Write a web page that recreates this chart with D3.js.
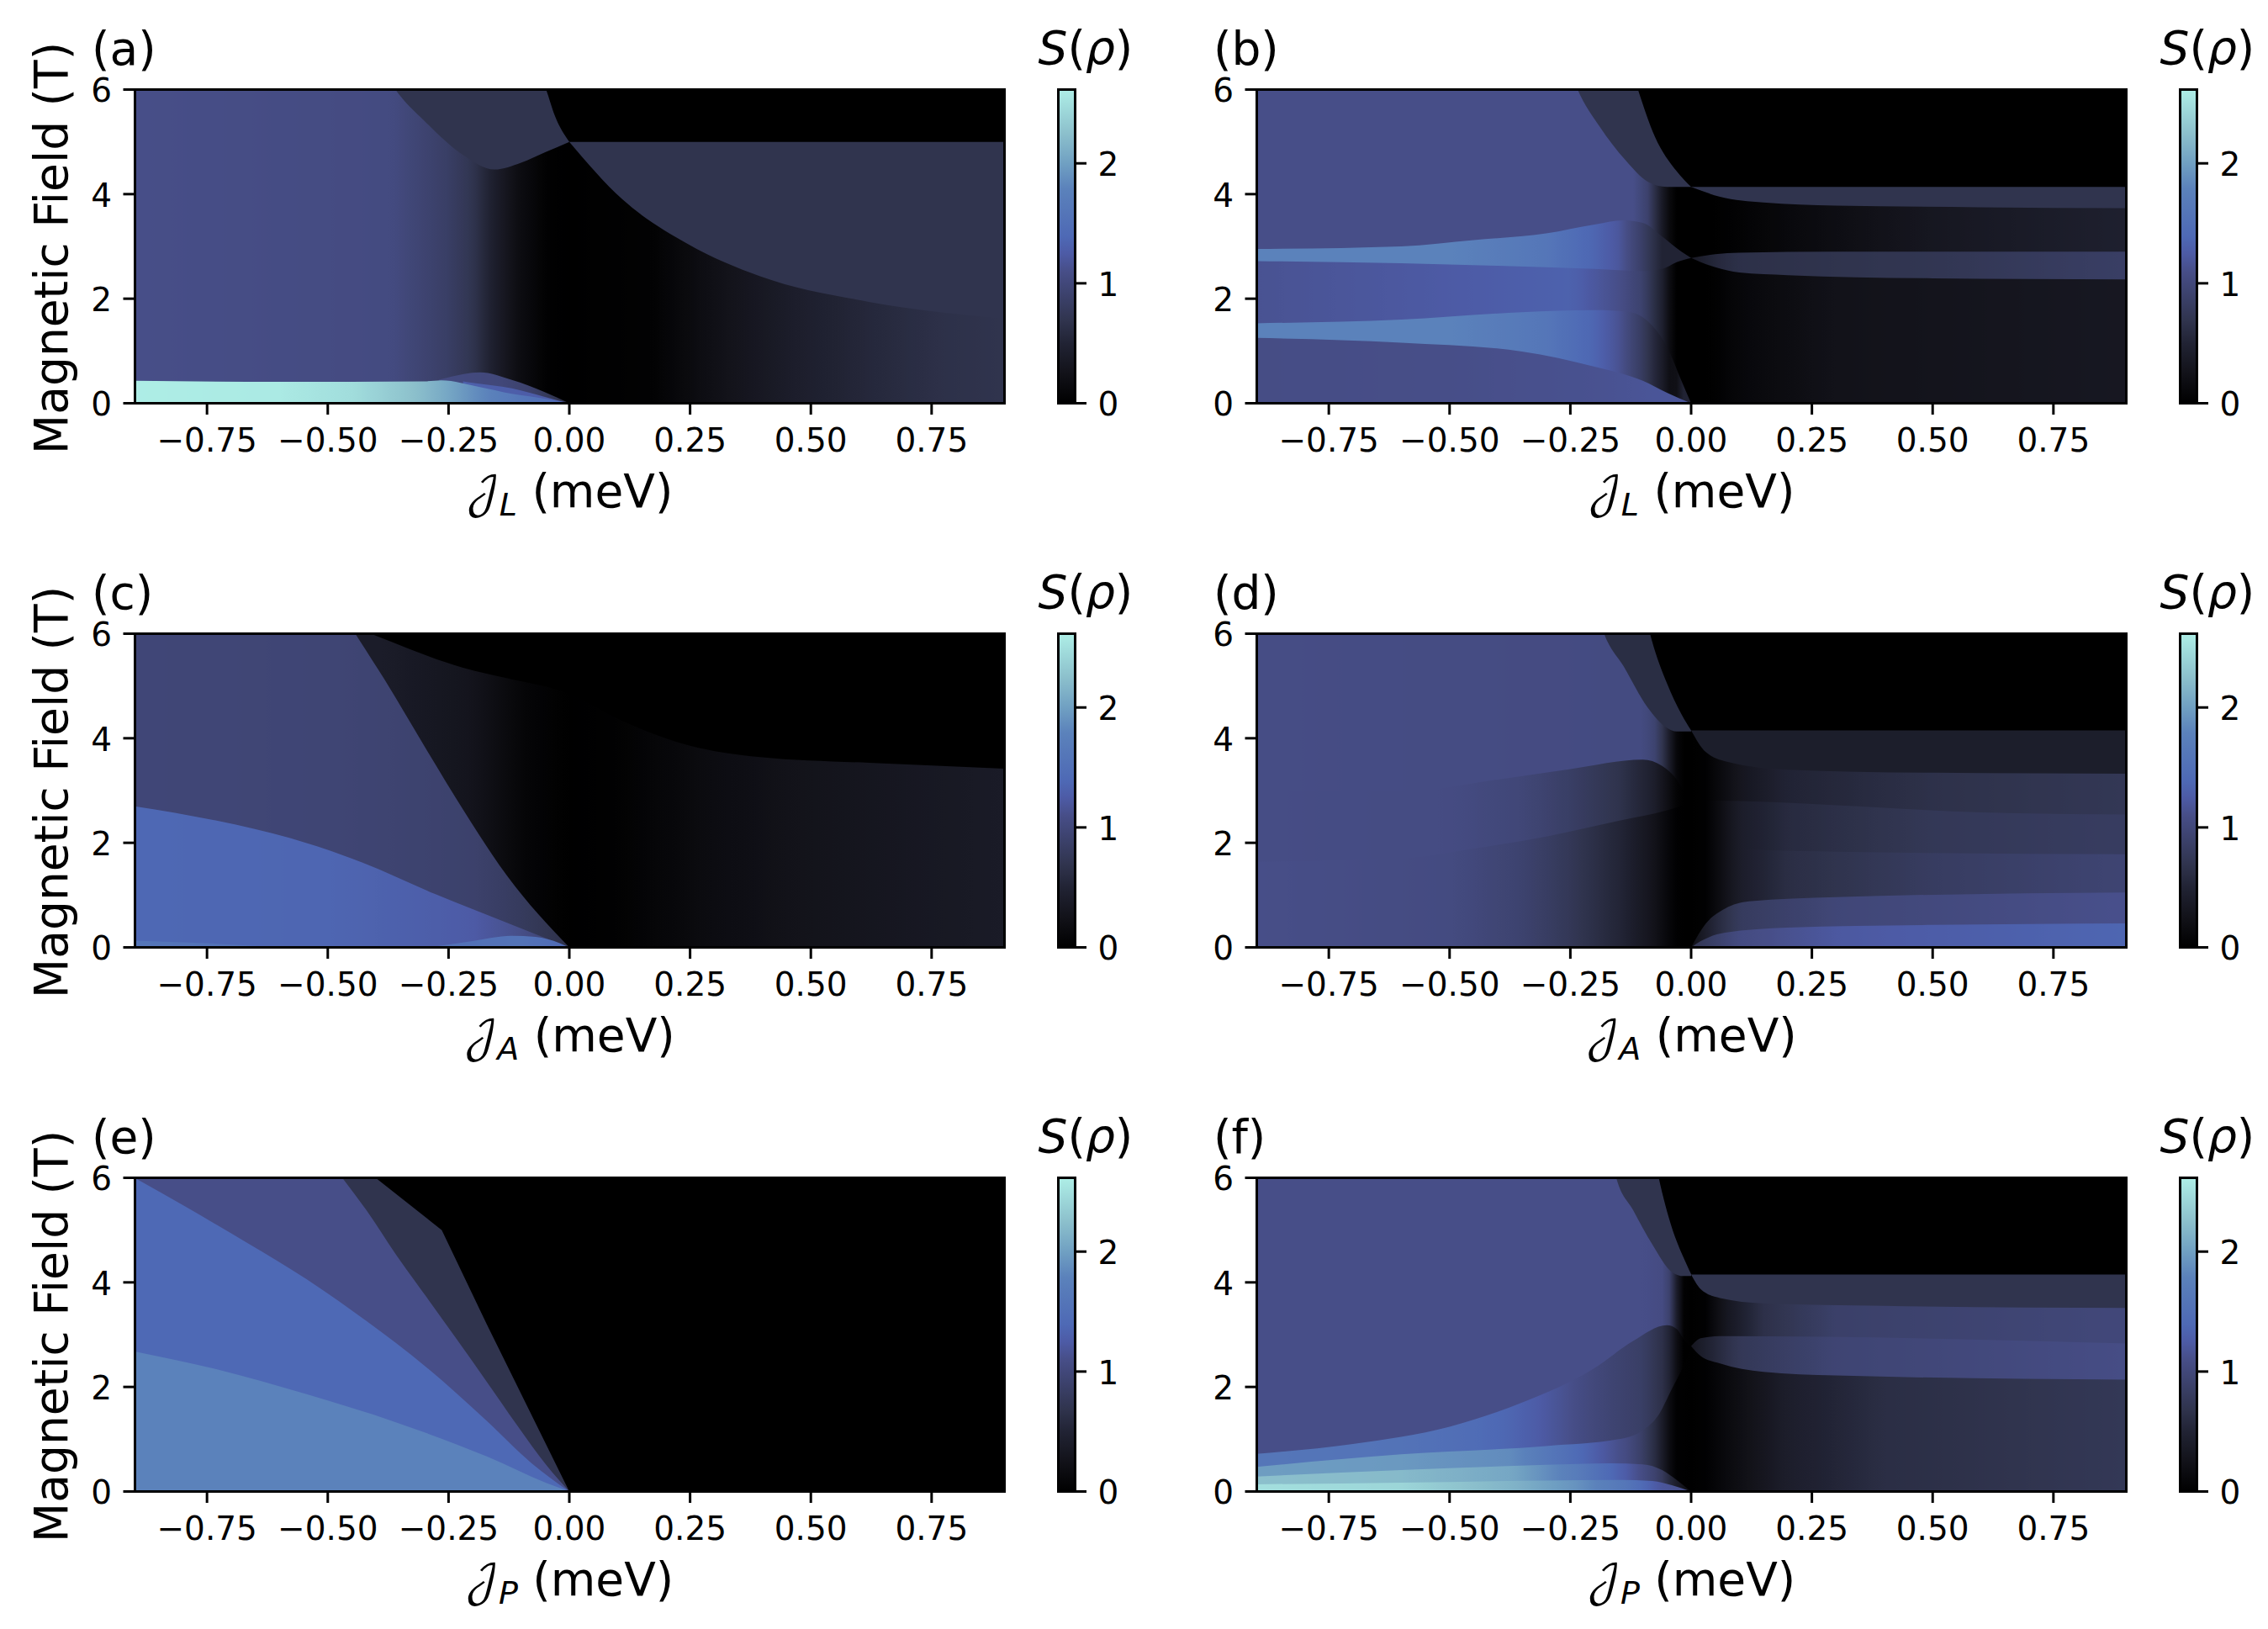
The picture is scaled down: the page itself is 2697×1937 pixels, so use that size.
<!DOCTYPE html>
<meta charset="utf-8">
<style>
body { margin: 0; background: #fff; }
svg { display: block; font-family: "DejaVu Sans", sans-serif; }
.axis path { display: none; }
.axis line { stroke: #000; stroke-width: 3; }
.axis text { font-family: "DejaVu Sans", sans-serif; font-size: 39px; fill: #000; }
.frame { fill: none; stroke: #000; stroke-width: 3; }
.label { font-size: 55px; fill: #000; }
.cal { font-family: "DejaVu Math TeX Gyre", "DejaVu Sans"; font-size: 50px; }
</style>
<div id="chart"></div>
<script src="https://d3js.org/d3.v7.min.js"></script>
<script>
// colormap
var cmapS = [0, 0.25, 0.5, 0.69, 1.1, 1.25, 1.39, 1.79, 2, 2.25, 2.615];
var cmapHex = ["#000000", "#121219", "#212334", "#30344e", "#474e88", "#4d5ba6", "#4e69b5", "#5b82bb", "#70a0c2", "#8cc0cc", "#aeeee6"];

var xTicks = [-0.75, -0.5, -0.25, 0, 0.25, 0.5, 0.75];
var yTicks = [0, 2, 4, 6];
var barTicks = [0, 1, 2];
var panelNames = ["(a)", "(b)", "(c)", "(d)", "(e)", "(f)"];
var xSubs = ["L", "L", "A", "A", "P", "P"];

// each layer: top = boundary [J, B], S = entropy profile [J, S]. painted in order, each fills down to B=0
var panelA = [
  {top: [[-0.9, 9], [-0.09, 6.8], [-0.048, 6], [-0.03, 5.5], [0, 5]], S: [[-0.9, 0.69], [0, 0.69]]},
  {top: [[-0.9, 9], [-0.4, 6.6], [-0.36, 6], [-0.3, 5.4], [-0.22, 4.75], [-0.155, 4.47], [-0.1, 4.6], [-0.05, 4.8], [0, 5]],
   S: [[-0.9, 1.1], [-0.37, 1.05], [-0.25, 0.85], [-0.2, 0.7], [-0.16, 0.45], [-0.11, 0.2], [-0.05, 0.02], [0, 0]]},
  {top: [[0, 5], [0.9, 5]], S: [[0, 0.69], [0.9, 0.69]]},
  {top: [[0, 5], [0.11, 3.9], [0.245, 3.05], [0.395, 2.43], [0.62, 1.94], [0.9, 1.62]],
   S: [[0, 0], [0.17, 0.03], [0.32, 0.25], [0.47, 0.42], [0.62, 0.55], [0.77, 0.65], [0.9, 0.69]]},
  {top: [[-0.27, 0.45], [-0.252, 0.49], [-0.185, 0.59], [-0.119, 0.447], [-0.052, 0.217], [0, 0]],
   S: [[-0.27, 1.05], [-0.15, 1], [-0.08, 0.9], [0, 0.6]]},
  {top: [[-0.22, 0.42], [-0.2, 0.39], [-0.119, 0.285], [-0.052, 0.125], [0, 0]],
   S: [[-0.22, 1.3], [0, 1.25]]},
  {top: [[-0.9, 0.43], [-0.6, 0.41], [-0.3, 0.42], [-0.265, 0.44], [-0.185, 0.31], [-0.119, 0.18], [-0.052, 0.09], [0, 0]],
   S: [[-0.9, 2.61], [-0.6, 2.58], [-0.45, 2.48], [-0.32, 2.25], [-0.25, 2.05], [-0.19, 1.85], [-0.1, 1.6], [0, 1.4]]}
];

var panelB = [
  {top: [[-0.9, 9], [-0.13, 6.6], [-0.11, 6], [-0.075, 5.1], [-0.03, 4.44], [0, 4.14]], S: [[-0.9, 0.69], [0, 0.69]]},
  {top: [[-0.9, 9], [-0.26, 6.6], [-0.235, 6], [-0.19, 5.3], [-0.135, 4.64], [-0.09, 4.24], [-0.05, 4.14], [0, 4.14]],
   S: [[-0.9, 1.1], [-0.12, 1.1], [-0.09, 0.9], [-0.07, 0.55], [-0.05, 0.2], [-0.035, 0], [0, 0]]},
  {top: [[0, 4.14], [0.9, 4.14]], S: [[0, 0.69], [0.9, 0.69]]},
  {top: [[0, 4.14], [0.06, 3.95], [0.15, 3.84], [0.3, 3.78], [0.6, 3.75], [0.9, 3.73]],
   S: [[0, 0], [0.05, 0], [0.2, 0.12], [0.5, 0.32], [0.9, 0.45]]},
  {top: [[-0.9, 2.95], [-0.6, 3], [-0.45, 3.12], [-0.3, 3.25], [-0.2, 3.42], [-0.14, 3.5], [-0.1, 3.45], [-0.06, 3.19], [-0.02, 2.9], [0, 2.78]],
   S: [[-0.9, 1.79], [-0.5, 1.79], [-0.3, 1.6], [-0.2, 1.35], [-0.15, 1.2], [-0.1, 0.85], [-0.06, 0.5], [0, 0.5]]},
  {top: [[0, 2.78], [0.05, 2.85], [0.1, 2.88], [0.3, 2.9], [0.9, 2.9]],
   S: [[0, 0.35], [0.05, 0.55], [0.1, 0.65], [0.5, 0.72], [0.9, 0.85]]},
  {top: [[0, 2.78], [0.05, 2.6], [0.1, 2.5], [0.2, 2.45], [0.5, 2.39], [0.9, 2.37]],
   S: [[0, 0], [0.04, 0], [0.1, 0.1], [0.3, 0.25], [0.9, 0.33]]},
  {top: [[-0.9, 2.72], [-0.6, 2.68], [-0.4, 2.63], [-0.2, 2.57], [-0.1, 2.53], [-0.06, 2.57], [-0.03, 2.7], [0, 2.78]],
   S: [[-0.9, 1.15], [-0.6, 1.22], [-0.4, 1.27], [-0.25, 1.32], [-0.15, 1.1], [-0.1, 0.9], [-0.06, 0.45], [-0.035, 0], [0, 0]]},
  {top: [[-0.9, 1.53], [-0.6, 1.6], [-0.35, 1.74], [-0.2, 1.78], [-0.13, 1.75], [-0.08, 1.48], [-0.05, 1.08], [-0.02, 0.43], [0, 0]],
   S: [[-0.9, 1.79], [-0.5, 1.79], [-0.3, 1.6], [-0.2, 1.35], [-0.15, 1.15], [-0.1, 0.8], [-0.06, 0.4], [-0.035, 0.08], [-0.02, 0.5], [0, 0.5]]},
  {top: [[-0.9, 1.25], [-0.6, 1.16], [-0.35, 0.99], [-0.2, 0.7], [-0.1, 0.43], [-0.05, 0.2], [0, 0]],
   S: [[-0.9, 1.08], [-0.5, 1.1], [-0.2, 1.14], [-0.08, 1.18], [0, 1.18]]}
];

var panelC = [
  {top: [[-0.9, 8], [-0.4, 5.96], [-0.22, 5.35], [-0.13, 5.15], [0, 4.85], [0.11, 4.33], [0.245, 3.87], [0.395, 3.64], [0.62, 3.53], [0.9, 3.42]],
   S: [[-0.9, 0.4], [-0.4, 0.4], [-0.2, 0.28], [-0.1, 0.08], [0, 0], [0.1, 0.02], [0.3, 0.17], [0.5, 0.27], [0.9, 0.38]]},
  {top: [[-0.9, 9], [-0.47, 6.4], [-0.443, 6], [-0.383, 5.13], [-0.293, 3.74], [-0.219, 2.62], [-0.129, 1.37], [0, 0]],
   S: [[-0.9, 0.98], [-0.5, 0.96], [-0.2, 0.9], [-0.1, 0.8], [0, 0.65]]},
  {top: [[-0.9, 2.7], [-0.728, 2.42], [-0.578, 2.09], [-0.428, 1.62], [-0.278, 1.02], [-0.129, 0.47], [0, 0]],
   S: [[-0.9, 1.38], [-0.5, 1.36], [-0.2, 1.25], [-0.1, 1.1], [-0.03, 0.9], [0, 0.7]]},
  {top: [[-0.9, 0.13], [-0.75, 0.08], [-0.6, 0]], S: [[-0.9, 1.6], [-0.6, 1.5]]},
  {top: [[-0.29, 0], [-0.2, 0.12], [-0.12, 0.22], [-0.07, 0.2], [-0.02, 0.08], [0, 0]], S: [[-0.29, 1.5], [-0.1, 1.55], [0, 1.4]]}
];

var panelD = [
  {top: [[-0.9, 9], [-0.1, 6.6], [-0.085, 6], [-0.05, 5.05], [-0.02, 4.46], [0, 4.15]], S: [[-0.9, 0.62], [0, 0.62]]},
  {top: [[-0.9, 9], [-0.2, 6.6], [-0.18, 6], [-0.14, 5.38], [-0.09, 4.59], [-0.05, 4.2], [-0.03, 4.13], [0, 4.13]],
   S: [[-0.9, 1.08], [-0.1, 1.05], [-0.07, 0.9], [-0.05, 0.5], [-0.03, 0.1], [-0.015, 0], [0, 0]]},
  {top: [[0, 4.15], [0.9, 4.15]], S: [[0, 0.42], [0.9, 0.42]]},
  {top: [[0, 4.15], [0.03, 3.74], [0.08, 3.54], [0.2, 3.4], [0.5, 3.34], [0.9, 3.32]],
   S: [[0, 0], [0.03, 0.02], [0.1, 0.3], [0.2, 0.5], [0.5, 0.66], [0.9, 0.74]]},
  {top: [[-0.9, 3.0], [-0.57, 3.01], [-0.4, 3.21], [-0.25, 3.41], [-0.1, 3.59], [-0.06, 3.47], [-0.03, 3.21], [-0.01, 2.9], [0, 2.78]],
   S: [[-0.9, 1.08], [-0.5, 1.06], [-0.35, 0.98], [-0.25, 0.85], [-0.15, 0.68], [-0.08, 0.45], [-0.05, 0.22], [-0.03, 0.05], [-0.015, 0], [0, 0]]},
  {top: [[0, 2.78], [0.03, 2.81], [0.3, 2.72], [0.6, 2.58], [0.9, 2.54]],
   S: [[0, 0], [0.03, 0.02], [0.1, 0.4], [0.2, 0.58], [0.5, 0.75], [0.9, 0.82]]},
  {top: [[-0.9, 1.64], [-0.6, 1.7], [-0.45, 1.89], [-0.3, 2.12], [-0.15, 2.42], [-0.05, 2.62], [0, 2.78]],
   S: [[-0.9, 1.1], [-0.5, 1.05], [-0.35, 0.92], [-0.25, 0.75], [-0.15, 0.52], [-0.08, 0.28], [-0.04, 0.06], [-0.025, 0], [0, 0]]},
  {top: [[0, 2.78], [0.02, 2.49], [0.05, 2.16], [0.08, 1.96], [0.15, 1.86], [0.3, 1.83], [0.9, 1.78]],
   S: [[0, 0], [0.03, 0.02], [0.1, 0.4], [0.2, 0.62], [0.5, 0.82], [0.9, 0.95]]},
  {top: [[0, 0], [0.03, 0.45], [0.07, 0.74], [0.12, 0.88], [0.3, 0.96], [0.9, 1.05]],
   S: [[0, 0.2], [0.05, 0.55], [0.1, 0.8], [0.3, 0.98], [0.9, 1.12]]},
  {top: [[0, 0], [0.02, 0.12], [0.07, 0.28], [0.2, 0.38], [0.5, 0.43], [0.9, 0.46]],
   S: [[0, 0.7], [0.1, 1.05], [0.3, 1.22], [0.9, 1.36]]}
];

var panelE = [
  {top: [[-0.9, 6], [-0.401, 6], [-0.264, 5], [-0.171, 3.2], [0, 0]], S: [[-0.9, 0.69], [0, 0.69]]},
  {top: [[-0.9, 9], [-0.49, 6.25], [-0.47, 6], [-0.42, 5.38], [-0.358, 4.52], [-0.295, 3.71], [-0.233, 2.91], [-0.171, 2.1], [-0.109, 1.28], [-0.047, 0.5], [0, 0]],
   S: [[-0.9, 1.1], [0, 1.1]]},
  {top: [[-0.9, 6], [-0.793, 5.44], [-0.668, 4.76], [-0.544, 4.06], [-0.42, 3.26], [-0.295, 2.37], [-0.171, 1.35], [-0.078, 0.54], [0, 0]], S: [[-0.9, 1.39], [0, 1.39]]},
  {top: [[-0.9, 2.68], [-0.731, 2.34], [-0.544, 1.86], [-0.358, 1.32], [-0.171, 0.67], [-0.047, 0.16], [0, 0]], S: [[-0.9, 1.79], [0, 1.79]]}
];

var panelF = [
  {top: [[-0.9, 9], [-0.08, 6.6], [-0.067, 6], [-0.04, 5.05], [-0.015, 4.46], [0, 4.16]], S: [[-0.9, 0.69], [0, 0.69]]},
  {top: [[-0.9, 9], [-0.17, 6.6], [-0.155, 6], [-0.12, 5.38], [-0.08, 4.72], [-0.04, 4.2], [-0.015, 4.12], [0, 4.12]],
   S: [[-0.9, 1.1], [-0.1, 1.1], [-0.05, 1.05], [-0.035, 0.6], [-0.02, 0.05], [-0.01, 0], [0, 0]]},
  {top: [[0, 4.15], [0.9, 4.15]], S: [[0, 0.69], [0.9, 0.69]]},
  {top: [[0, 4.15], [0.02, 3.87], [0.06, 3.7], [0.15, 3.6], [0.4, 3.55], [0.9, 3.51]],
   S: [[0, 0], [0.03, 0.02], [0.07, 0.3], [0.15, 0.65], [0.3, 0.88], [0.9, 1]]},
  {top: [[-0.9, 0.72], [-0.7, 0.91], [-0.5, 1.24], [-0.35, 1.7], [-0.2, 2.36], [-0.12, 2.88], [-0.05, 3.18], [-0.03, 3.11], [-0.01, 2.85], [0, 2.78]],
   S: [[-0.9, 1.6], [-0.6, 1.55], [-0.45, 1.45], [-0.37, 1.35], [-0.3, 1.22], [-0.2, 1], [-0.1, 0.85], [-0.05, 0.6], [-0.03, 0.2], [-0.015, 0], [0, 0]]},
  {top: [[0, 2.78], [0.02, 2.93], [0.06, 2.97], [0.9, 2.83]],
   S: [[0, 0.3], [0.05, 0.55], [0.1, 0.75], [0.3, 0.95], [0.9, 1.08]]},
  {top: [[0, 2.78], [0.02, 2.59], [0.06, 2.45], [0.15, 2.29], [0.3, 2.22], [0.9, 2.14]],
   S: [[0, 0], [0.03, 0.02], [0.1, 0.2], [0.2, 0.42], [0.4, 0.62], [0.9, 0.75]]},
  {top: [[-0.9, 0.47], [-0.6, 0.71], [-0.3, 0.87], [-0.15, 1], [-0.1, 1.17], [-0.07, 1.43], [-0.04, 1.96], [-0.015, 2.42], [0, 2.78]],
   S: [[-0.9, 1.98], [-0.6, 1.95], [-0.37, 1.85], [-0.236, 1.42], [-0.133, 1.05], [-0.1, 0.85], [-0.07, 0.55], [-0.05, 0.25], [-0.035, 0.02], [0, 0]]},
  {top: [[-0.9, 0.286], [-0.6, 0.41], [-0.3, 0.51], [-0.167, 0.54], [-0.1, 0.52], [-0.06, 0.41], [-0.03, 0.22], [0, 0]],
   S: [[-0.9, 2.25], [-0.6, 2.2], [-0.37, 2.05], [-0.236, 1.7], [-0.133, 1.25], [-0.064, 0.85], [-0.04, 0.5], [-0.02, 0.3], [0, 0.1]]},
  {top: [[-0.9, 0.137], [-0.6, 0.17], [-0.3, 0.21], [-0.15, 0.22], [-0.08, 0.2], [-0.04, 0.12], [0, 0]],
   S: [[-0.9, 2.5], [-0.6, 2.42], [-0.37, 2.15], [-0.236, 1.9], [-0.133, 1.6], [-0.064, 1.2], [0, 1.1]]}
];

var panels = [panelA, panelB, panelC, panelD, panelE, panelF];

var WIDTH = 2697, HEIGHT = 1937;
var colLeft = [160, 1494], rowTop = [106.5, 753.5, 1400.5];
var plotW = 1034, plotH = 373, barGap = 64.5, barW = 20;

var svg = d3.select("#chart").append("svg").attr("width", WIDTH).attr("height", HEIGHT);
var defs = svg.append("defs");

var color = d3.scaleLinear().domain(cmapS).range(cmapHex).clamp(true);
var x = d3.scaleLinear().domain([-0.9, 0.9]).range([0, plotW]);
var y = d3.scaleLinear().domain([0, 6]).range([plotH, 0]);
var barY = d3.scaleLinear().domain([0, 2.615]).range([plotH, 0]);

function addGradient(id, profile) {
  var j0 = profile[0][0], j1 = profile[profile.length - 1][0];
  var s = d3.scaleLinear().domain(profile.map(d => d[0])).range(profile.map(d => d[1]));
  var g = defs.append("linearGradient").attr("id", id).attr("gradientUnits", "userSpaceOnUse")
    .attr("x1", x(j0)).attr("x2", x(j1)).attr("y1", 0).attr("y2", 0);
  d3.range(0, 61).forEach(function(i) {
    var t = i / 60;
    g.append("stop").attr("offset", t).attr("stop-color", color(s(j0 + t * (j1 - j0))));
  });
}

panels.forEach(function(layers, p) {
  var col = p % 2, row = Math.floor(p / 2);
  var g = svg.append("g").attr("transform", "translate(" + colLeft[col] + "," + rowTop[row] + ")");
  var clipId = "clip" + p;
  defs.append("clipPath").attr("id", clipId).append("rect").attr("width", plotW).attr("height", plotH);

  var plot = g.append("g").attr("clip-path", "url(#" + clipId + ")");
  plot.append("rect").attr("width", plotW).attr("height", plotH).attr("fill", color(0));

  layers.forEach(function(layer, i) {
    var id = "grad" + p + "_" + i;
    addGradient(id, layer.S);
    // the kinked outer edge in (e) stays straight
    var area = d3.area().x(d => x(d[0])).y0(y(0)).y1(d => y(d[1]))
      .curve(p === 4 && i === 0 ? d3.curveLinear : d3.curveMonotoneX);
    plot.append("path").attr("d", area(layer.top)).attr("fill", "url(#" + id + ")");
  });

  g.append("rect").attr("class", "frame").attr("x", 0.5).attr("width", plotW).attr("height", plotH);

  g.append("g").attr("class", "axis").attr("transform", "translate(0," + plotH + ")")
    .call(d3.axisBottom(x).tickValues(xTicks).tickFormat(d3.format(".2f")).tickSize(13.5).tickPadding(16).offset(0));
  g.append("g").attr("class", "axis")
    .call(d3.axisLeft(y).tickValues(yTicks).tickFormat(d3.format("d")).tickSize(13.5).tickPadding(13.5).offset(0))
    .selectAll("text").attr("dy", "0.38em");

  g.append("text").attr("class", "label").attr("x", -51).attr("y", -30).text(panelNames[p]);

  // x label, script J with a subscript
  var xl = g.append("text").attr("class", "label").attr("x", plotW / 2).attr("y", 496).attr("text-anchor", "middle");
  xl.append("tspan").attr("class", "cal").text("\uD835\uDCA5");
  xl.append("tspan").attr("dy", 10).style("font-size", "38px").style("font-style", "italic").text(xSubs[p]);
  xl.append("tspan").attr("dy", -10).text(" (meV)");

  if (col === 0) {
    g.append("text").attr("class", "label").attr("text-anchor", "middle")
      .attr("transform", "translate(-80," + (plotH / 2 + 2) + ") rotate(-90)").text("Magnetic Field (T)");
  }

  // colorbar
  var bar = g.append("g").attr("transform", "translate(" + (plotW + barGap) + ",0)");
  var barId = "bar" + p;
  var bg = defs.append("linearGradient").attr("id", barId).attr("x1", 0).attr("x2", 0).attr("y1", 1).attr("y2", 0);
  cmapS.forEach(function(v, i) {
    bg.append("stop").attr("offset", v / 2.615).attr("stop-color", cmapHex[i]);
  });
  bar.append("rect").attr("width", barW).attr("height", plotH).attr("fill", "url(#" + barId + ")");
  bar.append("rect").attr("class", "frame").attr("width", barW).attr("height", plotH);
  bar.append("g").attr("class", "axis").attr("transform", "translate(" + barW + ",0)")
    .call(d3.axisRight(barY).tickValues(barTicks).tickFormat(d3.format("d")).tickSize(13.5).tickPadding(13.5).offset(0))
    .selectAll("text").attr("dy", "0.38em");

  var st = bar.append("text").attr("class", "label").attr("x", -24).attr("y", -31);
  st.append("tspan").style("font-style", "italic").text("S");
  st.append("tspan").text("(");
  st.append("tspan").style("font-style", "italic").text("\u03C1");
  st.append("tspan").text(")");
});
</script>
